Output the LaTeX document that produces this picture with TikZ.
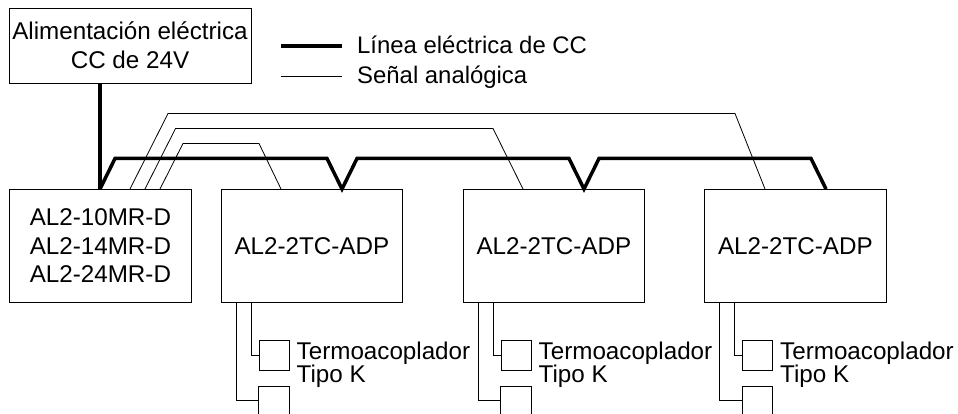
\documentclass[tikz,border=0pt]{standalone}
\usepackage{fontspec}
\setmainfont{Liberation Sans}
\tikzset{
  every node/.style={font=\fontsize{24.2pt}{27pt}\selectfont},
  box/.style={draw=black,line width=0.8pt,anchor=north west,inner sep=0pt,align=center},
  thin line/.style={draw=black,line width=0.8pt,line join=miter},
  thick line/.style={draw=black,line width=3.5pt,line join=miter},
  lbl/.style={anchor=base west,inner sep=0pt,align=left},
  lgd/.style={lbl,font=\fontsize{23.9pt}{27pt}\selectfont}
}
\newcommand{\mkbox}[6]{\node[box,minimum width=#4,minimum height=#5] (#1) at (#2,#3) {#6};}
\newcommand{\sensor}[2]{% name, dx
  \node[box,minimum width=30,minimum height=30] (#1t) at (258.7+#2,340) {};
  \node[lbl] (#1a) at (296.5+#2,359.5) {Termoacoplador};
  \node[lbl] (#1b) at (296.5+#2,382.5) {Tipo K};
  \coordinate (#1c) at (#2+251,302);
  \coordinate (#1d) at (#2+236,302);
  \coordinate (#1e) at (258.7+#2,414);
  \coordinate (#1f) at (289+#2,414);
  \draw[thin line] (#1c) |- (#1t.west);
  \draw[thin line] (#1d) |- (258.7+#2,400);
  \draw[thin line] (#1e) -- (258.7+#2,386) -- (289+#2,386) -- (#1f);
}
\begin{document}
\begin{tikzpicture}[x=1pt,y=-1pt]
\useasboundingbox (0,0) rectangle (958,414);
\mkbox{psu}{9}{8}{242}{75}{}
\node[inner sep=0pt,align=center] (psut) at (130,45) {Alimentación eléctrica\\[1.5pt]CC de 24V};
\mkbox{cpu}{9}{189}{182}{113}{AL2-10MR-D\\[1.5pt]AL2-14MR-D\\[1.5pt]AL2-24MR-D}
\mkbox{a}{220.7}{189}{181.5}{113}{AL2-2TC-ADP}
\mkbox{b}{462.7}{189}{181.5}{113}{AL2-2TC-ADP}
\mkbox{c}{704}{189}{182}{113}{AL2-2TC-ADP}
\sensor{s1}{0}
\sensor{s2}{242}
\sensor{s3}{483.5}
% thick DC line
\coordinate (p0) at (100,83);
\coordinate (p1) at (100,189);
\coordinate (v1) at (342,189);
\coordinate (v2) at (584,189);
\coordinate (v3) at (826,189);
\draw[thick line] (p0) -- (p1);
\draw[thick line] (p1) -- (115,158.5) -- (327,158.5) -- (v1) -- (357,158.5) -- (569,158.5) -- (v2) -- (599,158.5) -- (811,158.5) -- (v3);
% analog lines
\coordinate (t1) at (130,189);
\coordinate (t2) at (145,189);
\coordinate (t3) at (160,189);
\coordinate (e1) at (765,189);
\coordinate (e2) at (523,189);
\coordinate (e3) at (281,189);
\draw[thin line] (t1) -- (168,113.5) -- (735,113.5) -- (e1);
\draw[thin line] (t2) -- (175.5,128.5) -- (493,128.5) -- (e2);
\draw[thin line] (t3) -- (183,143.5) -- (259,143.5) -- (e3);
% legend
\coordinate (l1a) at (281,46);
\coordinate (l1b) at (342,46);
\coordinate (l2a) at (281,76);
\coordinate (l2b) at (342,76);
\draw[thick line] (l1a) -- (l1b);
\draw[thin line] (l2a) -- (l2b);
\node[lgd] (l1) at (357,54) {Línea eléctrica de CC};
\node[lgd] (l2) at (357,84) {Señal analógica};
\end{tikzpicture}
\end{document}
